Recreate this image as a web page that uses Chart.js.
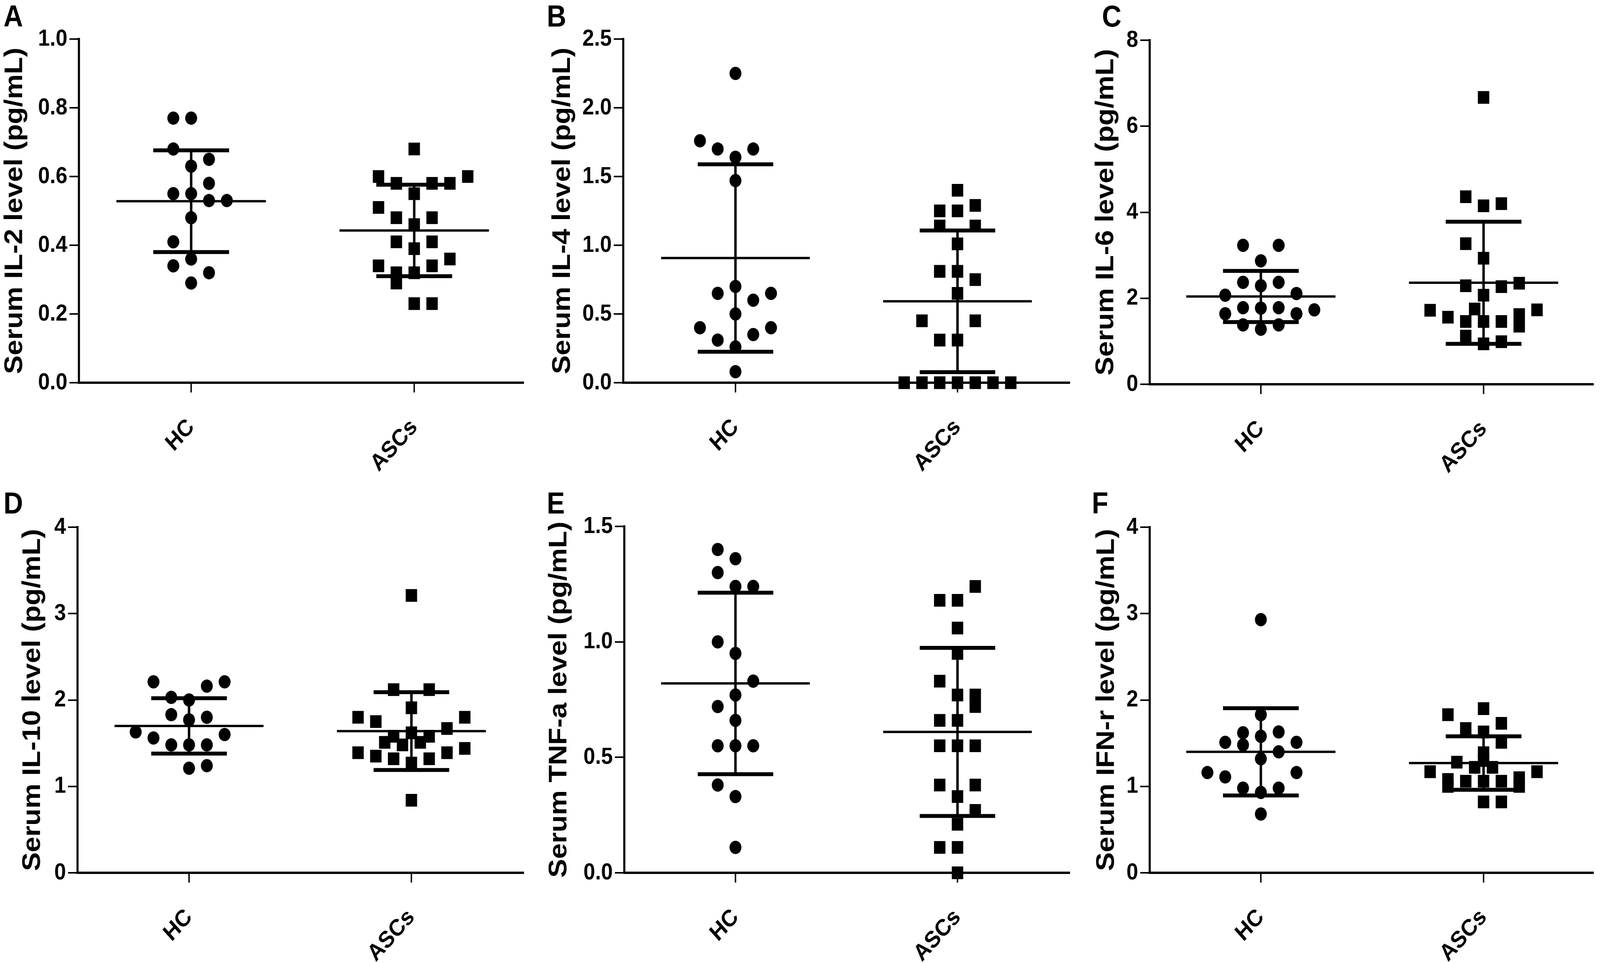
<!DOCTYPE html>
<html>
<head>
<meta charset="utf-8">
<script src="https://cdn.jsdelivr.net/npm/chart.js@4.4.1/dist/chart.umd.min.js"></script>
<style>
  html, body { margin: 0; padding: 0; background: #fff; overflow: hidden; }
  #page { position: absolute; left: 0; top: 0; width: 4562px; height: 2466px; transform-origin: 0 0; }
  canvas { position: absolute; }
  .tag { position: absolute; font: bold 77px "Liberation Sans", Arial, sans-serif; line-height: 77px; color: #000; }
</style>
</head>
<body>
<div id="page"></div>
<script>
// groups on the x axis
const groups = ['HC', 'ASCs'];

// y axis ticks per panel
const yTicksA = [0, 0.2, 0.4, 0.6, 0.8, 1.0];
const yLabelsA = ['0.0', '0.2', '0.4', '0.6', '0.8', '1.0'];
const yTicksB = [0, 0.5, 1.0, 1.5, 2.0, 2.5];
const yLabelsB = ['0.0', '0.5', '1.0', '1.5', '2.0', '2.5'];
const yTicksC = [0, 2, 4, 6, 8];
const yLabelsC = ['0', '2', '4', '6', '8'];
const yTicksD = [0, 1, 2, 3, 4];
const yLabelsD = ['0', '1', '2', '3', '4'];
const yTicksE = [0, 0.5, 1.0, 1.5];
const yLabelsE = ['0.0', '0.5', '1.0', '1.5'];
const yTicksF = [0, 1, 2, 3, 4];
const yLabelsF = ['0', '1', '2', '3', '4'];

// IL-2 (pg/mL); *Col = dot column in the scatter (0 = centre)
const hcIL2 = [0.77, 0.77, 0.68, 0.65, 0.63, 0.58, 0.55, 0.55, 0.53, 0.53, 0.48, 0.41, 0.36, 0.34, 0.32, 0.29];
const hcIL2Col = [-1, 0, -1, 1, 0, 1, -1, 0, 1, 2, 0, -1, 0, -1, 1, 0];
const ascIL2 = [0.68, 0.60, 0.60, 0.58, 0.58, 0.58, 0.55, 0.51, 0.48, 0.48, 0.46, 0.41, 0.41, 0.39, 0.36, 0.34, 0.34, 0.32, 0.32, 0.29, 0.23, 0.23];
const ascIL2Col = [0, -2, 3, -1, 1, 2, 0, -2, -1, 1, 0, -1, 1, 0, 2, -2, 1, -1, 0, -1, 0, 1];
const meanIL2 = [0.528, 0.443];
const sdIL2 = [0.148, 0.133];

// IL-4
const hcIL4 = [2.25, 1.76, 1.70, 1.70, 1.64, 1.47, 0.70, 0.65, 0.65, 0.60, 0.50, 0.40, 0.40, 0.35, 0.31, 0.26, 0.08];
const hcIL4Col = [0, -2, -1, 1, 0, 0, 0, -1, 2, 1, 0, -2, 2, 1, -1, 0, 0];
const ascIL4 = [1.40, 1.29, 1.25, 1.25, 1.14, 1.14, 1.01, 0.81, 0.81, 0.75, 0.65, 0.45, 0.45, 0.31, 0.31, 0, 0, 0, 0, 0, 0, 0];
const ascIL4Col = [0, 1, -1, 0, -1, 1, 0, -1, 0, 1, 0, -2, 1, -1, 0, -3, -2, -1, 0, 1, 2, 3];
const meanIL4 = [0.907, 0.592];
const sdIL4 = [0.682, 0.515];

// IL-6
const hcIL6 = [3.23, 3.23, 2.87, 2.37, 2.37, 2.29, 2.07, 2.11, 1.78, 1.77, 1.78, 1.73, 1.64, 1.64, 1.38, 1.38, 1.28];
const hcIL6Col = [-1, 1, 0, -1, 1, 0, -2, 2, -1, 0, 1, 3, -2, 2, -1, 1, 0];
const ascIL6 = [6.67, 4.36, 4.15, 4.20, 3.27, 2.93, 2.35, 2.29, 2.27, 2.07, 1.75, 1.73, 1.72, 1.62, 1.56, 1.46, 1.46, 1.46, 1.35, 1.12, 0.99, 0.94];
const ascIL6Col = [0, -1, 0, 1, -1, 0, 2, -1, 1, 0, -0.5, 3, -3, 2, -2, -1, 0, 1, 2, -1, 1, 0];
const meanIL6 = [2.04, 2.36];
const sdIL6 = [0.595, 1.42];

// IL-10
const hcIL10 = [2.21, 2.16, 2.21, 2.03, 2.00, 1.83, 1.77, 1.80, 1.63, 1.56, 1.60, 1.48, 1.48, 1.48, 1.21, 1.24];
const hcIL10Col = [-2, 1, 2, -1, 0, -1, 0, 1, -3, -2, 2, -1, 0, 1, 0, 1];
const ascIL10 = [3.21, 2.12, 2.12, 1.91, 1.80, 1.75, 1.80, 1.67, 1.62, 1.58, 1.58, 1.51, 1.51, 1.48, 1.39, 1.44, 1.39, 1.35, 1.32, 1.32, 1.27, 0.84];
const ascIL10Col = [0, -1, 1, 0, -3, -2, 3, 2, 0, -1, 1, -1.5, 0.5, -0.5, -3, 3, 2, -2, -1, 1, 0, 0];
const meanIL10 = [1.70, 1.64];
const sdIL10 = [0.32, 0.45];

// TNF-a
const hcTNF = [1.40, 1.36, 1.30, 1.24, 1.24, 1.00, 0.95, 0.83, 0.77, 0.72, 0.66, 0.55, 0.55, 0.55, 0.38, 0.33, 0.11];
const hcTNFCol = [-1, 0, -1, 0, 1, -1, 0, 1, 0, -1, 0, -1, 0, 1, -1, 0, 0];
const ascTNF = [1.24, 1.18, 1.18, 1.06, 0.95, 0.83, 0.77, 0.77, 0.72, 0.66, 0.66, 0.55, 0.55, 0.55, 0.38, 0.38, 0.33, 0.27, 0.21, 0.11, 0.11, 0];
const ascTNFCol = [1, -1, 0, 0, 0, -1, 0, 1, 1, -1, 0, -1, 0, 1, -1, 1, 0, 1, 0, -1, 0, 0];
const meanTNF = [0.82, 0.61];
const sdTNF = [0.393, 0.364];

// IFN-r
const hcIFN = [2.93, 1.83, 1.62, 1.63, 1.58, 1.51, 1.51, 1.48, 1.40, 1.32, 1.16, 1.16, 1.11, 0.98, 0.98, 0.93, 0.68];
const hcIFNCol = [0, 0, -1, 1, 0, -2, 2, -1, 1, 0, -3, 2, -2, -1, 1, 0, 0];
const ascIFN = [1.90, 1.83, 1.73, 1.67, 1.63, 1.51, 1.39, 1.30, 1.28, 1.22, 1.22, 1.17, 1.17, 1.10, 1.08, 1.06, 1.06, 1.06, 1.00, 1.00, 0.82, 0.82];
const ascIFNCol = [0, -2, 1, -1, 0, 1, 0, 0, -1.5, -0.5, 0.5, -3, 3, 2, -2, -1, 0, 1, -2, 2, 0, 1];
const meanIFN = [1.40, 1.27];
const sdIFN = [0.505, 0.31];

const panels = [
  { tag: 'A', title: 'Serum IL-2 level (pg/mL)', ticks: yTicksA, labels: yLabelsA, hc: hcIL2, hcCol: hcIL2Col, asc: ascIL2, ascCol: ascIL2Col, mean: meanIL2, sd: sdIL2 },
  { tag: 'B', title: 'Serum IL-4 level (pg/mL)', ticks: yTicksB, labels: yLabelsB, hc: hcIL4, hcCol: hcIL4Col, asc: ascIL4, ascCol: ascIL4Col, mean: meanIL4, sd: sdIL4 },
  { tag: 'C', title: 'Serum IL-6 level (pg/mL)', ticks: yTicksC, labels: yLabelsC, hc: hcIL6, hcCol: hcIL6Col, asc: ascIL6, ascCol: ascIL6Col, mean: meanIL6, sd: sdIL6 },
  { tag: 'D', title: 'Serum IL-10 level (pg/mL)', ticks: yTicksD, labels: yLabelsD, hc: hcIL10, hcCol: hcIL10Col, asc: ascIL10, ascCol: ascIL10Col, mean: meanIL10, sd: sdIL10 },
  { tag: 'E', title: 'Serum TNF-a level (pg/mL)', ticks: yTicksE, labels: yLabelsE, hc: hcTNF, hcCol: hcTNFCol, asc: ascTNF, ascCol: ascTNFCol, mean: meanTNF, sd: sdTNF },
  { tag: 'F', title: 'Serum IFN-r level (pg/mL)', ticks: yTicksF, labels: yLabelsF, hc: hcIFN, hcCol: hcIFNCol, asc: ascIFN, ascCol: ascIFNCol, mean: meanIFN, sd: sdIFN }
];

// where each panel sits on the page (px): canvas origin, axis box, tick positions
const frames = [
  { x0: 0,    y0: 0,    padLeft: 0,  left: 225, top: 100, bottom: 980,  right: 1492, hcPx: 545, ascPx: 1181, tagX: 10,   tagY: 3 },
  { x0: 1520, y0: 0,    padLeft: 42, left: 257, top: 100, bottom: 980,  right: 1529, hcPx: 577, ascPx: 1210, tagX: 1559, tagY: 3 },
  { x0: 3040, y0: 0,    padLeft: 71, left: 238, top: 103, bottom: 984,  right: 1502, hcPx: 555, ascPx: 1190, tagX: 3142, tagY: 3 },
  { x0: 0,    y0: 1233, padLeft: 51, left: 221, top: 117, bottom: 1002, right: 1492, hcPx: 539, ascPx: 1173, tagX: 10,   tagY: 1250 },
  { x0: 1520, y0: 1233, padLeft: 32, left: 260, top: 115, bottom: 1002, right: 1529, hcPx: 577, ascPx: 1210, tagX: 1559, tagY: 1250 },
  { x0: 3040, y0: 1233, padLeft: 73, left: 238, top: 117, bottom: 1002, right: 1502, hcPx: 555, ascPx: 1190, tagX: 3113, tagY: 1250 }
];

const PAGE_W = 4562, PAGE_H = 2466;
const CW = 1560, CH = 1233;
const SLOT = 0.08;      // width of one dot column, in group units
const MEAN_HALF = 0.335;
const CAP_HALF = 0.17;
const FONT = "'Liberation Sans', Arial, sans-serif";
Chart.defaults.font.family = FONT;
Chart.defaults.color = '#000';

// stretch the 4562x2466 design over whatever the viewport really is
const page = document.getElementById('page');
const kx = (window.innerWidth || PAGE_W) / PAGE_W;
const ky = (window.innerHeight || PAGE_H) / PAGE_H;
page.style.transform = 'scale(' + kx + ',' + ky + ')';
const ratio = (window.devicePixelRatio || 1) * Math.max(kx, ky);

function dots(values, cols, g) {
  return values.map((v, i) => ({ x: g + cols[i] * SLOT, y: v }));
}

function errorSets(p) {
  const out = [];
  [1, 2].forEach((g, k) => {
    const m = p.mean[k], s = p.sd[k];
    out.push({ data: [{ x: g - MEAN_HALF, y: m }, { x: g + MEAN_HALF, y: m }], borderWidth: 6 });
    out.push({ data: [{ x: g - CAP_HALF, y: m + s }, { x: g + CAP_HALF, y: m + s }, { x: g, y: null },
                      { x: g - CAP_HALF, y: m - s }, { x: g + CAP_HALF, y: m - s }], borderWidth: 10 });
    out.push({ data: [{ x: g, y: m + s }, { x: g, y: m - s }], borderWidth: 7 });
  });
  return out.map(d => Object.assign(d, {
    showLine: true, borderColor: '#000', pointRadius: 0, borderCapStyle: 'butt', spanGaps: false, clip: false
  }));
}

panels.forEach((p, idx) => {
  const f = frames[idx];
  const cv = document.createElement('canvas');
  cv.style.left = f.x0 + 'px'; cv.style.top = f.y0 + 'px';
  cv.style.width = CW + 'px'; cv.style.height = CH + 'px';
  cv.width = CW; cv.height = CH;
  page.appendChild(cv);

  const tag = document.createElement('div');
  tag.className = 'tag';
  tag.textContent = p.tag;
  tag.style.left = f.tagX + 'px'; tag.style.top = f.tagY + 'px';
  page.appendChild(tag);

  const span = f.ascPx - f.hcPx;
  const xMin = 1 - (f.hcPx - f.left) / span;
  const xMax = 2 + (f.right - f.ascPx) / span;

  const datasets = [
    { data: dots(p.hc, p.hcCol, 1), pointStyle: 'circle', pointRadius: 17 },
    { data: dots(p.asc, p.ascCol, 2), pointStyle: 'rect', pointRadius: 23 }
  ].map(d => Object.assign(d, {
    pointBackgroundColor: '#000', pointBorderWidth: 0, showLine: false, clip: false
  })).concat(errorSets(p));

  new Chart(cv, {
    type: 'scatter',
    data: { datasets: datasets },
    options: {
      responsive: false,
      animation: false,
      devicePixelRatio: ratio,
      events: [],
      layout: { padding: { left: f.padLeft, top: f.top, right: CW - f.right, bottom: 0 } },
      plugins: { legend: { display: false }, tooltip: { enabled: false } },
      scales: {
        x: {
          type: 'linear',
          min: xMin, max: xMax,
          afterBuildTicks: s => { s.ticks = [{ value: 1 }, { value: 2 }]; },
          afterFit: s => { s.height = CH - f.bottom; },
          ticks: {
            callback: v => groups[v - 1],
            minRotation: 45, maxRotation: 45,
            autoSkip: false,
            padding: 54,
            font: { size: 60, weight: 'bold' }
          },
          grid: { drawOnChartArea: false, color: '#000', lineWidth: 4, tickLength: 25 },
          border: { display: true, color: '#000', width: 6 }
        },
        y: {
          type: 'linear',
          min: 0, max: p.ticks[p.ticks.length - 1],
          afterBuildTicks: s => { s.ticks = p.ticks.map(v => ({ value: v })); },
          afterFit: s => { s.width = f.left - f.padLeft; },
          ticks: {
            callback: (v, i) => p.labels[i],
            padding: 6,
            font: { size: 60, weight: 'bold' }
          },
          title: { display: true, text: p.title, padding: 0, font: { size: 72, weight: 'bold' } },
          grid: { drawOnChartArea: false, color: '#000', lineWidth: 4, tickLength: 27 },
          border: { display: true, color: '#000', width: 6 }
        }
      }
    }
  });
});
</script>
</body>
</html>
